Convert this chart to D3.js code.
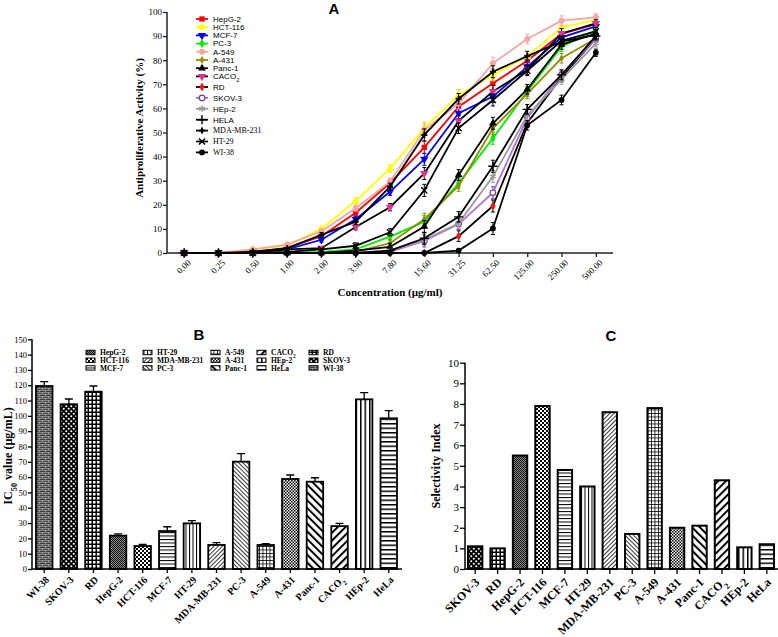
<!DOCTYPE html>
<html><head><meta charset="utf-8">
<script src="https://cdn.jsdelivr.net/npm/d3@7"></script>
<style>body{margin:0;background:#fff}svg{display:block}</style>
</head><body><svg id="c" width="778" height="637"></svg>
<script>
// ---------- DATA ----------
const concentrations = ["0.00","0.25","0.50","1.00","2.00","3.90","7.80","15.60","31.25","62.50","125.00","250.00","500.00"];
const lineSeries = ["HepG-2","HCT-116","MCF-7","PC-3","A-549","A-431","Panc-1","CACO2","RD","SKOV-3","HEp-2","HELA","MDA-MB-231","HT-29","WI-38"];
const vHepG2   = [0,0,0.5,2,7,16.7,29,43.8,60.7,70.4,79.8,90.9,95];
const vHCT116  = [0,0,1.5,3,10,21.6,35,51.8,65.6,73.9,81.5,93.6,96.7];
const vMCF7    = [0,0,0.5,1.5,5.5,14,25.4,38.9,58,64.9,77.3,89.5,94];
const vPC3     = [0,0,0,0,0.5,1.5,6.8,13,28.9,47.6,67,85.6,92.5];
const vA549    = [0,0,1.5,3.5,9,18.6,29.6,51,62,78.7,88.8,96.4,97.8];
const vA431    = [0,0,0,0,0,0.5,4.1,14,27.8,51.7,66,80.8,89];
const vPanc1   = [0,0,0,0,0,1,2.5,11,32.4,53.8,67.9,86.5,91];
const vCACO2   = [0,0,0,1.5,2,10.8,19,33,54.8,67,76,91.1,95.3];
const vRD      = [0,0,0,0,0,0,0,0,7,19.5,54,73,89];
const vSKOV3   = [0,0,0,0,0,0,0.5,5,12,25,56,74,89];
const vHEp2    = [0,0,0,0,0,0,1,5.5,12.3,31.7,57,72,87];
const vHELA    = [0,0,0,0,0,0,1,6.1,15,36,59.6,73.9,90];
const vMDA     = [0,0,0.5,2,7.5,13,27.5,49,64,75.2,81.7,87.7,90.5];
const vHT29    = [0,0,0,0.5,1.5,3,8.6,26,51.8,63.5,75.6,88,92];
const vWI38    = [0,0,0,0,0,0,0,0,1,10.2,53,63.5,83.1];
const errA     = [0,0,0.3,0.5,1,1.2,1.5,2.5,2.2,2.5,2,2,1.5];

const icLines  = ["WI-38","SKOV-3","RD","HepG-2","HCT-116","MCF-7","HT-29","MDA-MB-231","PC-3","A-549","A-431","Panc-1","CACO2","HEp-2","HeLa"];
const icValues = [119.5,107.6,115.8,21.8,15,24.8,29.8,15.7,70.1,15.7,58.8,57,28,110.8,98.4];
const icErrors = [2.9,3.4,3.7,1.2,1.1,2.8,1.8,1.5,5.2,0.8,2.6,2.6,1.8,4.4,5];
const icLegend = ["HepG-2","HCT-116","MCF-7","HT-29","MDA-MB-231","PC-3","A-549","A-431","Panc-1","CACO2","HEp-2","HeLa","RD","SKOV-3","WI-38"];

const siLines  = ["SKOV-3","RD","HepG-2","HCT-116","MCF-7","HT-29","MDA-MB-231","PC-3","A-549","A-431","Panc-1","CACO2","HEp-2","HeLa"];
const siValues = [1.1,1.0,5.5,7.9,4.8,4.0,7.6,1.7,7.8,2.0,2.1,4.3,1.05,1.2];

const ticksA = d3.range(0,101,10);
const ticksB = d3.range(0,151,10);
const ticksC = d3.range(0,11,1);

const seriesValues = [vHepG2,vHCT116,vMCF7,vPC3,vA549,vA431,vPanc1,vCACO2,vRD,vSKOV3,vHEp2,vHELA,vMDA,vHT29,vWI38];

// ---------- STYLES ----------
const styleA = {
 "HepG-2":{line:"#ff0000",mark:"#ff0000",sym:d3.symbolSquare,size:28},
 "HCT-116":{line:"#ffff00",mark:"#ffff00",sym:d3.symbolTriangle,size:30},
 "MCF-7":{line:"#0000ff",mark:"#0000ff",sym:d3.symbolTriangle,size:30,rot:180},
 "PC-3":{line:"#00ee00",mark:"#00ee00",sym:d3.symbolDiamond,size:24},
 "A-549":{line:"#f6a5a5",mark:"#f6a5a5",sym:d3.symbolCircle,size:28},
 "A-431":{line:"#8f8f00",mark:"#8f8f00",sym:d3.symbolDiamond,size:18},
 "Panc-1":{line:"#000",mark:"#000",sym:d3.symbolTriangle,size:26},
 "CACO2":{line:"#000",mark:"#e0338f",sym:d3.symbolTriangle,size:30,rot:180},
 "RD":{line:"#000",mark:"#ff1010",sym:d3.symbolDiamond,size:24},
 "SKOV-3":{line:"#b070e0",mark:"#7040a0",sym:d3.symbolCircle,size:24,open:true},
 "HEp-2":{line:"#9a9a9a",mark:"#9a9a9a",sym:d3.symbolAsterisk,size:30,stroke:true},
 "HELA":{line:"#000",mark:"#000",sym:d3.symbolPlus,size:30,stroke:true},
 "MDA-MB-231":{line:"#000",mark:"#000",sym:d3.symbolCross,size:20},
 "HT-29":{line:"#000",mark:"#000",sym:d3.symbolTimes,size:26,stroke:true},
 "WI-38":{line:"#000",mark:"#000",sym:d3.symbolCircle,size:26}
};

const svg = d3.select("#c");
const defs = svg.append("defs");
const SERIF = "'Liberation Serif','Times New Roman',serif";
const SANS = "'Liberation Sans',Arial,sans-serif";

function pat(id,w,h,bg,rot){
  const p = defs.append("pattern").attr("id",id).attr("patternUnits","userSpaceOnUse")
    .attr("width",w).attr("height",h);
  if(rot) p.attr("patternTransform",`rotate(${rot})`);
  p.append("rect").attr("width",w).attr("height",h).attr("fill",bg);
  return p;
}
let p;
p = pat("p-WI-38",6,4,"#3c3c3c");
p.append("path").attr("d","M0,0.3H6M0,2.3H6M0.3,0V2M3.3,2V4").attr("stroke","#cfcfcf").attr("stroke-width",0.6);
p = pat("p-SKOV-3",5,5,"#000");
p.append("circle").attr("cx",1.25).attr("cy",1.25).attr("r",1.05).attr("fill","#fff");
p.append("circle").attr("cx",3.75).attr("cy",3.75).attr("r",1.05).attr("fill","#fff");
p = pat("p-RD",4,4,"#000");
p.append("rect").attr("x",1).attr("y",1).attr("width",2.5).attr("height",2.5).attr("fill","#fff");
p = pat("p-HepG-2",2,2,"#8a8a8a");
p.append("rect").attr("width",1).attr("height",1).attr("fill","#111");
p.append("rect").attr("x",1).attr("y",1).attr("width",1).attr("height",1).attr("fill","#111");
p = pat("p-HCT-116",4,4,"#fff");
p.append("rect").attr("width",2).attr("height",2).attr("fill","#000");
p.append("rect").attr("x",2).attr("y",2).attr("width",2).attr("height",2).attr("fill","#000");
p = pat("p-MCF-7",4,3.5,"#fff");
p.append("rect").attr("width",4).attr("height",1).attr("fill","#000");
p = pat("p-HT-29",3.5,4,"#fff");
p.append("rect").attr("width",1).attr("height",4).attr("fill","#000");
p = pat("p-MDA-MB-231",3,3,"#fff",45);
p.append("rect").attr("width",0.9).attr("height",3).attr("fill","#222");
p = pat("p-PC-3",3,3,"#fff",-45);
p.append("rect").attr("width",0.9).attr("height",3).attr("fill","#222");
p = pat("p-A-549",3.5,3.5,"#fff");
p.append("path").attr("d","M0.4,0V3.5M0,0.4H3.5").attr("stroke","#000").attr("stroke-width",0.8);
p = pat("p-A-431",3,3,"#fff");
p.append("rect").attr("width",1.5).attr("height",1.5).attr("fill","#000");
p.append("rect").attr("x",1.5).attr("y",1.5).attr("width",1.5).attr("height",1.5).attr("fill","#000");
p = pat("p-Panc-1",5.5,5.5,"#fff",-45);
p.append("rect").attr("width",2).attr("height",5.5).attr("fill","#000");
p = pat("p-CACO2",5.5,5.5,"#fff",45);
p.append("rect").attr("width",2).attr("height",5.5).attr("fill","#000");
p = pat("p-HEp-2",4.5,4,"#fff");
p.append("rect").attr("width",1.5).attr("height",4).attr("fill","#000");
p = pat("p-HeLa",4,4.5,"#fff");
p.append("rect").attr("width",4).attr("height",1.5).attr("fill","#000");

function labelWithSub(sel,name){
  if(name==="CACO2"){
    sel.text("CACO");
    sel.append("tspan").attr("baseline-shift","sub").attr("font-size","70%").text("2");
  } else sel.text(name);
}

// ---------- PANEL A ----------
const xA = d3.scalePoint().domain(concentrations).range([167,613]).padding(0.5);
const yA = d3.scaleLinear().domain([0,100]).range([253,12]);
const gA = svg.append("g");

const axYA = gA.append("g").attr("transform","translate(167,0)")
  .call(d3.axisLeft(yA).tickValues(ticksA).tickSize(4).tickSizeOuter(0));
const axXA = gA.append("g").attr("transform","translate(0,253)")
  .call(d3.axisBottom(xA).tickSize(4).tickSizeOuter(0).tickFormat(""));
[axYA,axXA].forEach(a=>{a.select(".domain").attr("stroke","#222").attr("stroke-width",1.5);
  a.selectAll(".tick line").attr("stroke","#222").attr("stroke-width",1.3);});
axYA.select(".domain").attr("d","M0,253V12");
axXA.select(".domain").attr("d","M167,0H613");
axYA.selectAll(".tick text").attr("font-family",SERIF).attr("font-size",9).attr("fill","#000").attr("x",-5);
gA.selectAll(".xla").data(concentrations).join("text")
  .attr("transform",d=>`translate(${xA(d)+5},${261}) rotate(-45)`)
  .attr("text-anchor","end").attr("dy","0.35em").attr("font-family",SERIF).attr("font-size",9).text(d=>d);
gA.append("text").attr("transform","translate(143,128) rotate(-90)").attr("text-anchor","middle")
  .attr("font-family",SERIF).attr("font-weight","bold").attr("font-size",11).text("Antiproliferative Activity (%)");
gA.append("text").attr("x",390).attr("y",296).attr("text-anchor","middle")
  .attr("font-family",SERIF).attr("font-weight","bold").attr("font-size",11).text("Concentration (µg/ml)");
gA.append("text").attr("x",334).attr("y",14).attr("text-anchor","middle")
  .attr("font-family",SANS).attr("font-weight","bold").attr("font-size",15).text("A");

function marker(g,st,x,y){
  const path = d3.symbol().type(st.sym).size(st.size)();
  const m = g.append("path").attr("d",path).attr("transform",`translate(${x},${y})${st.rot?` rotate(${st.rot})`:""}`);
  if(st.stroke) m.attr("fill","none").attr("stroke",st.mark).attr("stroke-width",1.4);
  else if(st.open) m.attr("fill","#fff").attr("stroke",st.mark).attr("stroke-width",1.2);
  else m.attr("fill",st.mark);
}
const lineGen = d3.line().x((d,i)=>xA(concentrations[i])).y(d=>yA(d));
lineSeries.forEach((name,si)=>{
  const st = styleA[name], vals = seriesValues[si];
  const g = gA.append("g");
  g.append("path").attr("d",lineGen(vals)).attr("fill","none").attr("stroke",st.line).attr("stroke-width",1.8);
  vals.forEach((v,i)=>{
    const x = xA(concentrations[i]); const e = errA[i];
    if(e>0.8 && v>2 && v<98){
      const ec = st.mark==="#ffff00"?"#e8d800":(st.line==="#000"?"#000":st.mark);
      g.append("path").attr("d",`M${x},${yA(v-e)}V${yA(v+e)}M${x-2},${yA(v-e)}H${x+2}M${x-2},${yA(v+e)}H${x+2}`)
        .attr("stroke",ec).attr("stroke-width",1).attr("fill","none");
    }
    marker(g,st,x,yA(v));
  });
});
// legend A
const legA = gA.append("g");
lineSeries.forEach((name,i)=>{
  const st = styleA[name];
  const y = i<8 ? 19+i*8.2 : 87+(i-8)*10.9;
  legA.append("path").attr("d",`M196,${y}H208`).attr("stroke",st.line).attr("stroke-width",1.8);
  marker(legA,st,202,y);
  const t = legA.append("text").attr("x",213).attr("y",y).attr("dy","0.35em")
    .attr("font-family",i>=12?SERIF:SANS).attr("font-size",8);
  labelWithSub(t,name);
});

// ---------- PANEL B ----------
const xB = d3.scaleBand().domain(icLines).range([36,397]).paddingInner(0.33).paddingOuter(0);
const yB = d3.scaleLinear().domain([0,150]).range([569,339.3]);
const gB = svg.append("g");
gB.selectAll(".barB").data(icLines).join("rect")
  .attr("x",d=>xB(d)).attr("width",xB.bandwidth())
  .attr("y",(d,i)=>yB(icValues[i])).attr("height",(d,i)=>yB(0)-yB(icValues[i]))
  .attr("fill",d=>`url(#p-${d})`).attr("stroke","#000").attr("stroke-width",1.8);
gB.selectAll(".errB").data(icLines).join("path")
  .attr("d",(d,i)=>{const c=xB(d)+xB.bandwidth()/2, t=yB(icValues[i]), e=yB(icValues[i]+icErrors[i]);
     return `M${c},${t}V${e}M${c-4},${e}H${c+4}`;})
  .attr("stroke","#000").attr("stroke-width",1.3).attr("fill","none");
const axYB = gB.append("g").attr("transform","translate(32,0)")
  .call(d3.axisLeft(yB).tickValues(ticksB).tickSize(4).tickSizeOuter(0));
axYB.select(".domain").attr("d","M0,569V339.3");
axYB.selectAll(".tick text").attr("font-family",SERIF).attr("font-size",8.5).attr("fill","#000").attr("x",-5);
const axXB = gB.append("g").attr("transform","translate(0,569)");
axXB.append("path").attr("d","M32,0H402").attr("stroke","#000").attr("stroke-width",1.5);
icLines.forEach(d=>{const c=xB(d)+xB.bandwidth()/2;
  axXB.append("path").attr("d",`M${c},0V4`).attr("stroke","#000").attr("stroke-width",1.3);});
[axYB].forEach(a=>{a.select(".domain").attr("stroke","#000").attr("stroke-width",1.5);
  a.selectAll(".tick line").attr("stroke","#000").attr("stroke-width",1.3);});
gB.selectAll(".xlb").data(icLines).join("text")
  .attr("transform",d=>`translate(${xB(d)+xB.bandwidth()/2+3},${578}) rotate(-45)`)
  .attr("text-anchor","end").attr("dy","0.35em").attr("font-family",SERIF).attr("font-weight","bold").attr("font-size",10)
  .each(function(d){labelWithSub(d3.select(this),d);});
const tB = gB.append("text").attr("transform","translate(12,456) rotate(-90)").attr("text-anchor","middle")
  .attr("font-family",SERIF).attr("font-weight","bold").attr("font-size",12);
tB.append("tspan").text("IC");
tB.append("tspan").attr("baseline-shift","sub").attr("font-size","70%").text("50");
tB.append("tspan").text(" value (µg/mL)");
gB.append("text").attr("x",199).attr("y",340).attr("text-anchor","middle")
  .attr("font-family",SANS).attr("font-weight","bold").attr("font-size",15).text("B");
// legend B
const legBx = [86,143,211,257,309];
icLegend.forEach((name,i)=>{
  const col = Math.floor(i/3), row = i%3;
  const x = legBx[col], y = 352.5 + row*7.7;
  gB.append("rect").attr("x",x).attr("y",y-2.2).attr("width",9).attr("height",4.4)
    .attr("fill",`url(#p-${name})`).attr("stroke","#000").attr("stroke-width",1);
  const t = gB.append("text").attr("x",x+14).attr("y",y).attr("dy","0.35em")
    .attr("font-family",SERIF).attr("font-weight","bold").attr("font-size",7.5);
  labelWithSub(t,name);
});

// ---------- PANEL C ----------
const xC = d3.scaleBand().domain(siLines).range([468,774]).paddingInner(0.36).paddingOuter(0);
const yC = d3.scaleLinear().domain([0,10]).range([569,362.7]);
const gC = svg.append("g");
gC.selectAll(".barC").data(siLines).join("rect")
  .attr("x",d=>xC(d)).attr("width",xC.bandwidth())
  .attr("y",(d,i)=>yC(siValues[i])).attr("height",(d,i)=>yC(0)-yC(siValues[i]))
  .attr("fill",d=>`url(#p-${d})`).attr("stroke","#000").attr("stroke-width",2);
const axYC = gC.append("g").attr("transform","translate(465,0)")
  .call(d3.axisLeft(yC).tickValues(ticksC).tickSize(5).tickSizeOuter(0));
axYC.select(".domain").attr("d","M0,569V362.7").attr("stroke","#000").attr("stroke-width",1.5);
axYC.selectAll(".tick line").attr("stroke","#000").attr("stroke-width",1.3);
axYC.selectAll(".tick text").attr("font-family",SERIF).attr("font-size",11).attr("fill","#000").attr("x",-6);
const axXC = gC.append("g").attr("transform","translate(0,569)");
axXC.append("path").attr("d","M465,0H778").attr("stroke","#000").attr("stroke-width",1.5);
siLines.forEach(d=>{const c=xC(d)+xC.bandwidth()/2;
  axXC.append("path").attr("d",`M${c},0V5`).attr("stroke","#000").attr("stroke-width",1.3);});
gC.selectAll(".xlc").data(siLines).join("text")
  .attr("transform",d=>`translate(${xC(d)+xC.bandwidth()/2+2},${580}) rotate(-45)`)
  .attr("text-anchor","end").attr("dy","0.35em").attr("font-family",SERIF).attr("font-weight","bold").attr("font-size",12)
  .each(function(d){labelWithSub(d3.select(this),d);});
gC.append("text").attr("transform","translate(440,466) rotate(-90)").attr("text-anchor","middle")
  .attr("font-family",SERIF).attr("font-weight","bold").attr("font-size",12).text("Selectivity Index");
gC.append("text").attr("x",611).attr("y",341).attr("text-anchor","middle")
  .attr("font-family",SANS).attr("font-weight","bold").attr("font-size",15).text("C");
</script></body></html>
